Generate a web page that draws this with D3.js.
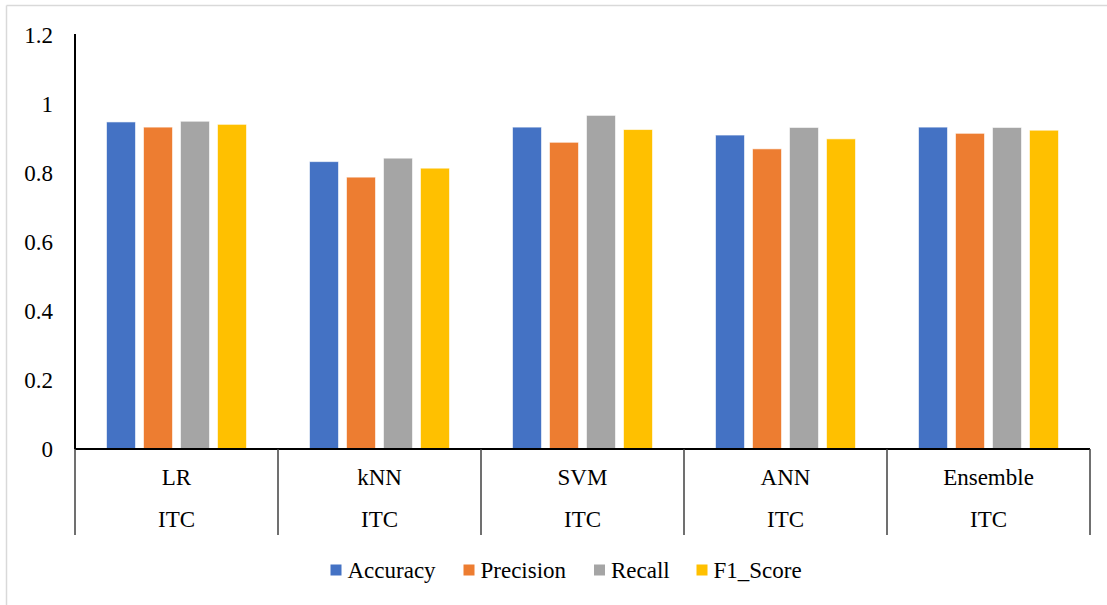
<!DOCTYPE html>
<html>
<head>
<meta charset="utf-8">
<script src="https://cdn.jsdelivr.net/npm/d3@7"></script>
<style>
  html, body { margin: 0; padding: 0; background: #fff; }
  svg { display: block; }
  svg text { font-family: "Liberation Serif", "DejaVu Serif", serif; }
</style>
</head>
<body>
<svg id="chart" width="1107" height="605"></svg>
<script>
// Model scores on the ITC dataset
const models = ["LR", "kNN", "SVM", "ANN", "Ensemble"];
const dataset = ["ITC", "ITC", "ITC", "ITC", "ITC"];
const metrics = ["Accuracy", "Precision", "Recall", "F1_Score"];
const accuracy  = [0.948, 0.833, 0.933, 0.910, 0.933];
const precision = [0.933, 0.788, 0.889, 0.870, 0.915];
const recall    = [0.950, 0.843, 0.967, 0.932, 0.932];
const f1Score   = [0.941, 0.814, 0.926, 0.899, 0.924];
const yTicks = [0, 0.2, 0.4, 0.6, 0.8, 1, 1.2];
const yTickLabels = ["0", "0.2", "0.4", "0.6", "0.8", "1", "1.2"];
const colors = ["#4472c4", "#ed7d31", "#a5a5a5", "#ffc000"];

const seriesValues = [accuracy, precision, recall, f1Score];
const rows = models.map((m, i) => ({
  model: m,
  dataset: dataset[i],
  values: metrics.map((k, j) => ({ key: k, value: seriesValues[j][i] }))
}));

const FONT = "Liberation Serif, DejaVu Serif, serif";
const FS = 23;

const svg = d3.select("#chart");
const plotLeft = 75, plotRight = 1090, plotTop = 35, baseY = 449, catBottom = 535;

// chart area frame (top and left edges only)
svg.append("line").attr("x1", 6.5).attr("x2", 1107).attr("y1", 5.5).attr("y2", 5.5)
  .attr("stroke", "#d9d9d9").attr("stroke-width", 1.5);
svg.append("line").attr("x1", 6.5).attr("x2", 6.5).attr("y1", 5.5).attr("y2", 605)
  .attr("stroke", "#d9d9d9").attr("stroke-width", 1.5);

const y = d3.scaleLinear().domain([0, 1.2]).range([baseY, plotTop]);
const x0 = d3.scaleBand().domain(models).range([plotLeft, plotRight]).paddingInner(0).paddingOuter(0);
const x1 = d3.scaleBand().domain(metrics)
  .range([31.5, x0.bandwidth() - 31.5]).paddingInner(0.216).paddingOuter(0);
const color = d3.scaleOrdinal().domain(metrics).range(colors);

// y axis
const yAxis = d3.axisLeft(y).tickValues(yTicks)
  .tickFormat((d, i) => yTickLabels[i]).tickSize(0).tickPadding(22);
const gy = svg.append("g").attr("transform", `translate(${plotLeft},0)`).call(yAxis)
  .attr("font-family", FONT).attr("font-size", FS);
gy.select(".domain").attr("stroke", "#000").attr("stroke-width", 2)
  .attr("d", `M0,${plotTop - 1}V${baseY}`);
gy.selectAll("text").attr("fill", "#000");

// bars
const groups = svg.append("g").selectAll("g").data(rows).join("g")
  .attr("transform", d => `translate(${x0(d.model)},0)`);
groups.selectAll("rect").data(d => d.values).join("rect")
  .attr("x", d => x1(d.key))
  .attr("width", x1.bandwidth())
  .attr("y", d => y(d.value))
  .attr("height", d => baseY - y(d.value))
  .attr("fill", d => color(d.key))
  .attr("stroke", "#fff").attr("stroke-opacity", 0.6).attr("stroke-width", 1);

// category axis: baseline, separators, two label rows
svg.append("line").attr("x1", plotLeft).attr("x2", plotRight).attr("y1", baseY).attr("y2", baseY)
  .attr("stroke", "#000").attr("stroke-width", 2);
const seps = models.map(m => x0(m)).concat([plotRight]);
svg.append("g").selectAll("line").data(seps).join("line")
  .attr("x1", d => d).attr("x2", d => d)
  .attr("y1", baseY).attr("y2", catBottom)
  .attr("stroke", "#404040").attr("stroke-width", 1.5);

svg.append("g").selectAll("text").data(rows).join("text")
  .attr("x", d => x0(d.model) + x0.bandwidth() / 2)
  .attr("y", 477).attr("dy", "0.35em")
  .attr("text-anchor", "middle").attr("font-family", FONT).attr("font-size", FS).attr("fill", "#000")
  .text(d => d.model);
svg.append("g").selectAll("text").data(rows).join("text")
  .attr("x", d => x0(d.model) + x0.bandwidth() / 2)
  .attr("y", 519).attr("dy", "0.35em")
  .attr("text-anchor", "middle").attr("font-family", FONT).attr("font-size", FS).attr("fill", "#000")
  .text(d => d.dataset);

// legend
const legendX = [330.5, 463.5, 594, 696.5];
const legend = svg.append("g").selectAll("g").data(metrics).join("g")
  .attr("transform", (d, i) => `translate(${legendX[i]},570)`);
legend.append("rect").attr("x", 0).attr("y", -5.5).attr("width", 11).attr("height", 11)
  .attr("fill", d => color(d));
legend.append("text").attr("x", 17).attr("dy", "0.35em")
  .attr("font-family", FONT).attr("font-size", FS).attr("fill", "#000").text(d => d);
</script>
</body>
</html>
